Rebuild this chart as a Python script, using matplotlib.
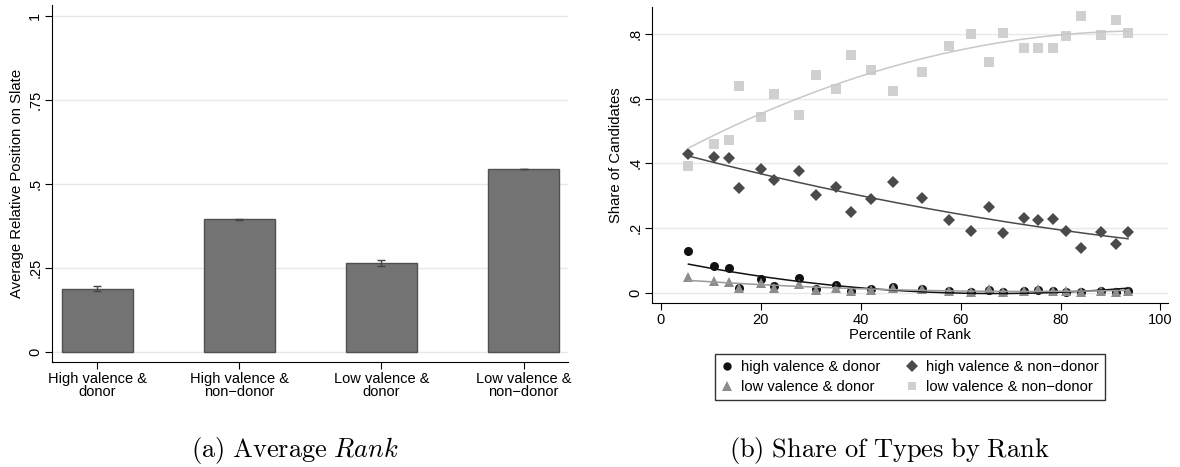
import numpy as np
import matplotlib
matplotlib.use("Agg")
import matplotlib.pyplot as plt
from matplotlib.lines import Line2D

plt.rcParams["font.family"] = ["Liberation Sans", "DejaVu Sans"]
plt.rcParams["mathtext.fontset"] = "cm"

# panel (a): average relative position by type
groups = ["High valence &\ndonor", "High valence &\nnon\u2212donor",
          "Low valence &\ndonor", "Low valence &\nnon\u2212donor"]
avg_pos = [0.188, 0.395, 0.266, 0.545]
avg_err = [0.007, 0.002, 0.009, 0.001]

# panel (b): share of candidate types by percentile of rank
pct = [5.5, 10.6, 13.6, 15.6, 20.1, 22.6, 27.6, 31.1, 35.1, 38.1, 42.0, 46.5,
       52.3, 57.6, 62.0, 65.6, 68.4, 72.6, 75.4, 78.5, 81.1, 84.1, 88.1, 91.1, 93.5]
hv_donor = [0.128, 0.084, 0.076, 0.016, 0.042, 0.023, 0.046, 0.012, 0.026, 0.007,
            0.012, 0.017, 0.012, 0.005, 0.003, 0.008, 0.002, 0.005, 0.008, 0.006,
            0.004, 0.002, 0.006, 0.003, 0.005]
hv_nondonor = [0.428, 0.419, 0.417, 0.323, 0.383, 0.348, 0.377, 0.301, 0.326, 0.249,
               0.290, 0.343, 0.294, 0.225, 0.191, 0.266, 0.185, 0.231, 0.225, 0.229,
               0.191, 0.138, 0.187, 0.150, 0.187]
lv_donor = [0.048, 0.037, 0.033, 0.016, 0.030, 0.015, 0.028, 0.010, 0.016, 0.006,
            0.009, 0.015, 0.012, 0.006, 0.004, 0.012, 0.004, 0.006, 0.011, 0.007,
            0.006, 0.003, 0.007, 0.003, 0.005]
lv_nondonor = [0.393, 0.460, 0.472, 0.640, 0.544, 0.614, 0.549, 0.674, 0.631, 0.736,
               0.689, 0.624, 0.683, 0.762, 0.800, 0.712, 0.804, 0.757, 0.757, 0.757,
               0.794, 0.856, 0.798, 0.844, 0.803]

series = [
    ("high valence & donor", hv_donor, "o", "#111111", "#111111", 6.5),
    ("high valence & non\u2212donor", hv_nondonor, "D", "#4a4a4a", "#4a4a4a", 6.5),
    ("low valence & donor", lv_donor, "^", "#8c8c8c", "#9a9a9a", 7),
    ("low valence & non\u2212donor", lv_nondonor, "s", "#d0d0d0", "#c8c8c8", 6.5),
]

fig = plt.figure(figsize=(11.8, 4.67), dpi=100)
grid_c = "#e8e8e8"

# ---- (a) bar chart
ax1 = fig.add_axes([0.0441, 0.2248, 0.4373, 0.7645])
xpos = np.arange(1, 5)
ax1.bar(xpos, avg_pos, width=0.5, color="#737373", edgecolor="#505050",
        linewidth=1.0, zorder=3)
ax1.errorbar(xpos, avg_pos, yerr=avg_err, fmt="none", ecolor="#444444",
             elinewidth=1.0, capsize=3, capthick=1.0, zorder=4)
ax1.set_xlim(0.683, 4.313)
ax1.set_ylim(-0.03, 1.033)
ax1.set_yticks([0, 0.25, 0.5, 0.75, 1])
ax1.set_yticklabels(["0", ".25", ".5", ".75", "1"], rotation=90, va="center")
ax1.set_xticks(xpos)
ax1.set_xticklabels(groups, fontsize=10.5, linespacing=0.95)
ax1.set_ylabel("Average Relative Position on Slate", fontsize=10.7, labelpad=3)
ax1.yaxis.grid(True, color=grid_c, linewidth=1.0, zorder=0)
ax1.tick_params(axis="y", labelsize=10.5, length=5, pad=2)
ax1.tick_params(axis="x", length=5, pad=2)
for s in ("top", "right"):
    ax1.spines[s].set_visible(False)

# ---- (b) scatter with quadratic fits
ax2 = fig.add_axes([0.5525, 0.3512, 0.4373, 0.6338])
x = np.array(pct)
xs = np.linspace(x.min(), x.max(), 200)
for label, vals, mk, col, fitcol, ms in series:
    ax2.plot(x, vals, linestyle="none", marker=mk, color=col, markersize=ms,
             markeredgewidth=0, zorder=3)
for label, vals, mk, col, fitcol, ms in series:
    coef = np.polyfit(x, vals, 2)
    ax2.plot(xs, np.polyval(coef, xs), color=fitcol, linewidth=1.1, zorder=4)
ax2.set_xlim(-1.8, 101.5)
ax2.set_ylim(-0.031, 0.883)
ax2.set_xticks([0, 20, 40, 60, 80, 100])
ax2.set_yticks([0, 0.2, 0.4, 0.6, 0.8])
ax2.set_yticklabels(["0", ".2", ".4", ".6", ".8"], rotation=90, va="center")
ax2.set_xlabel("Percentile of Rank", fontsize=10.7, labelpad=1)
ax2.set_ylabel("Share of Candidates", fontsize=10.7, labelpad=4)
ax2.yaxis.grid(True, color=grid_c, linewidth=1.0, zorder=0)
ax2.tick_params(labelsize=10.5, length=5, pad=2)
for s in ("top", "right"):
    ax2.spines[s].set_visible(False)

handles = [Line2D([], [], linestyle="none", marker=mk, color=col, markersize=ms - 0.5,
                  markeredgewidth=0, label=label)
           for label, vals, mk, col, fitcol, ms in series]
# columns fill top to bottom, so order circle, triangle, diamond, square
order = [0, 2, 1, 3]
leg = fig.legend([handles[i] for i in order], [handles[i].get_label() for i in order],
                 ncol=2, loc="center", bbox_to_anchor=(910 / 1180, 1 - 377 / 467),
                 fontsize=10.6, frameon=True, fancybox=False, edgecolor="black",
                 handlelength=0.8, handletextpad=0.6, columnspacing=1.7,
                 labelspacing=0.45, borderpad=0.4)
leg.get_frame().set_linewidth(1.0)

fig.text(295 / 1180, 1 - 450 / 467, r"$\mathrm{(a)\ Average\ }\mathit{Rank}$",
         ha="center", va="center", fontsize=19)
fig.text(889 / 1180, 1 - 450 / 467, r"$\mathrm{(b)\ Share\ of\ Types\ by\ Rank}$",
         ha="center", va="center", fontsize=19)

fig.savefig("out.png", dpi=100)
